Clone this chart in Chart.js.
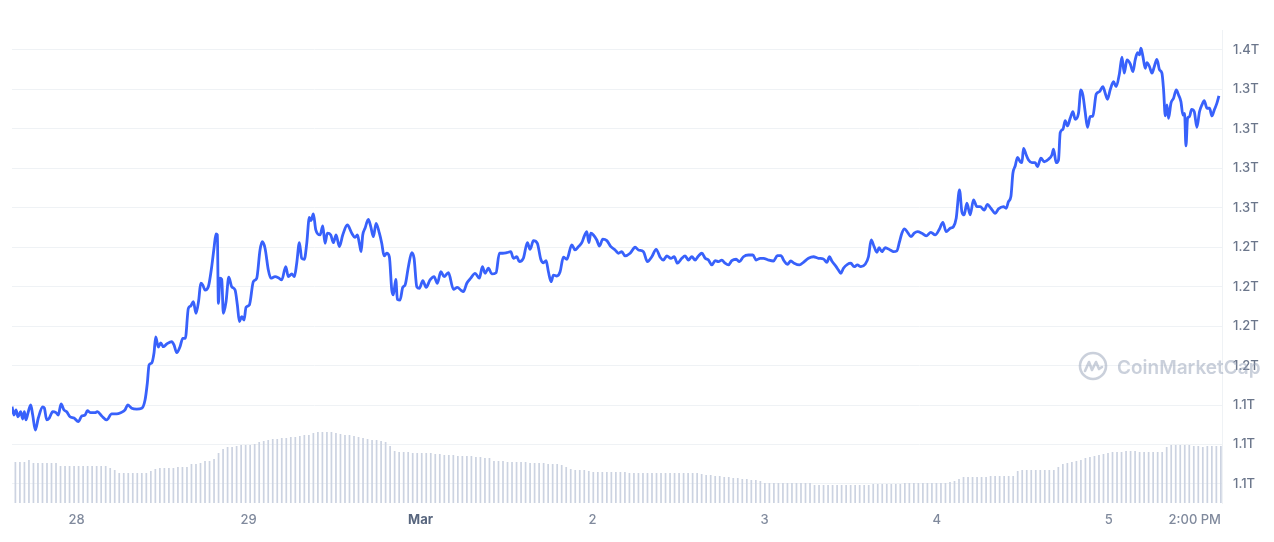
<!DOCTYPE html>
<html>
<head>
<meta charset="utf-8">
<title>Market cap</title>
<script src="https://cdn.jsdelivr.net/npm/chart.js@4.4.1/dist/chart.umd.min.js"></script>
<style>
  html, body { margin: 0; padding: 0; background: #fff; }
  #chart { display: block; }
</style>
</head>
<body>
<canvas id="chart" width="1274" height="542"></canvas>
<script>
// hours since Feb 27 15:00
const hours = [
  0,0.28,0.56,0.84,1.21,1.49,1.72,1.95,2.23,2.61,
  2.89,3.25,3.67,4.28,4.51,4.84,5.20,5.68,6.14,6.46,
  6.84,7.26,7.63,8.09,8.65,9.25,9.73,10.19,10.51,10.98,
  11.58,11.90,12.52,13.21,13.91,14.61,15.17,15.77,16.14,16.70,
  17.40,18.10,18.56,18.88,19.12,19.49,19.81,20.05,20.41,20.75,
  21.11,21.59,22.28,22.60,22.98,23.44,23.82,24.18,24.60,24.93,
  25.30,25.67,26.05,26.33,26.61,26.93,27.39,27.86,28.18,28.46,
  28.65,28.79,29.02,29.26,29.48,29.86,30.24,30.65,31.12,31.44,
  31.72,32.05,32.37,32.65,33.11,
  33.67,34.14,34.60,34.92,35.30,35.76,36.10,36.70,37.16,37.63,
  38.19,38.55,39.03,39.39,39.72,40.09,40.42,40.78,41.12,41.48,
  41.72,42.04,42.38,42.98,43.35,43.67,43.99,44.47,44.83,45.21,
  45.67,46.14,46.78,47.40,47.86,48.18,48.46,48.70,48.93,49.25,
  49.71,50.05,50.41,50.79,51.25,51.58,51.91,52.28,52.64,52.98,
  53.20,53.54,53.76,54.14,54.51,54.84,55.30,55.77,56.09,56.47,
  56.83,57.31,57.77,58.32,58.88,59.34,59.82,60.28,60.88,61.58,
  62.13,62.61,62.97,63.45,64.00,64.60,65.20,65.62,66.00,66.46,
  66.93,67.53,67.99,68.47,69.03,69.58,69.95,70.42,70.78,71.34,
  71.90,72.28,72.74,73.29,73.77,74.13,74.51,74.83,75.21,75.53,
  76.00,76.46,76.92,77.40,78.09,78.55,79.02,79.49,79.85,80.19,
  80.47,80.75,81.11,81.58,81.95,82.42,82.98,83.54,84.14,84.60,
  85.07,85.53,86.23,86.93,87.39,88.09,88.64,89.26,89.86,90.42,
  90.87,91.35,91.91,92.37,92.83,93.44,93.90,94.36,94.84,95.30,
  95.76,96.24,96.70,97.16,97.63,98.09,98.55,99.02,99.48,99.94,
  100.42,101.02,101.48,102.04,102.74,103.35,103.81,
  104.37,104.83,105.53,106.22,106.78,107.26,107.72,108.18,108.65,109.11,
  109.85,110.41,111.11,111.81,112.50,113.20,113.68,114.04,114.37,114.97,
  115.29,115.63,115.99,116.55,117.02,117.48,117.94,118.42,119.02,119.48,
  119.86,120.27,120.65,120.97,121.35,121.81,122.51,122.97,123.44,123.81,
  124.14,124.51,124.93,125.40,125.86,126.32,126.93,127.53,128.19,128.79,
  129.39,129.86,130.32,130.88,131.34,131.72,132.18,132.51,132.83,133.21,
  133.67,134.13,134.61,135.07,135.63,136.08,136.56,137.16,137.62,
  138.32,138.69,139.01,139.35,139.63,139.95,140.27,140.65,140.89,141.11,
  141.49,141.81,142.28,142.74,143.06,143.54,144.00,144.60,145.07,145.30,
  145.67,145.99,146.23,146.61,146.93,147.25,147.62,148.00,148.32,148.78,
  149.11,149.39,149.71,150.03,150.41,150.79,151.25,151.71,152.18,152.51,
  152.83,153.20,153.66,154.04,154.50,154.84,155.16,155.54,156.00,156.37,
  156.69,157.01,157.29,157.49,157.77,158.09,158.33,158.69,159.03,159.35,
  159.72,160.09,160.42,160.65,160.89,161.12,161.34,161.68,162.04,162.42,
  162.74,163.07,163.35,163.58,163.77,164.00,164.27,164.55,164.93,165.30,
  165.66,166.00,166.32,166.70,167.06,167.40,167.72,168.09,168.37
];

// market cap, billions USD
const marketCap = [
  1149.0,1143.7,1146.9,1142.6,1145.8,1141.2,1145.8,1140.6,1145.0,1150.1,
  1143.7,1134.2,1141.8,1148.8,1148.2,1140.6,1141.8,1145.8,1145.2,1143.7,
  1150.7,1146.9,1145.8,1142.6,1141.8,1139.5,1143.1,1143.7,1146.4,1145.2,
  1145.2,1145.8,1143.1,1140.6,1144.4,1144.4,1145.2,1146.9,1150.1,1148.0,
  1147.5,1148.0,1153.2,1164.0,1175.4,1176.7,1183.0,1193.2,1186.8,1189.4,
  1187.0,1188.7,1190.2,1188.1,1183.2,1187.0,1192.3,1192.3,1211.3,1212.8,
  1215.5,1208.2,1216.6,1227.2,1226.1,1222.9,1225.0,1237.7,1249.4,1258.4,
  1257.8,1214.5,1230.4,1229.7,1208.2,1215.5,1231.0,1225.0,1222.9,1213.4,
  1202.9,1206.0,1203.9,1212.0,1213.4,
  1228.2,1230.4,1248.3,1253.5,1249.4,1235.6,1230.4,1231.4,1230.7,1229.3,
  1237.7,1231.4,1233.1,1231.4,1239.9,1252.9,1243.0,1242.4,1252.5,1269.0,
  1266.9,1271.1,1261.0,1257.8,1263.5,1252.5,1258.9,1257.8,1252.9,1257.8,
  1250.4,1257.8,1264.1,1258.9,1256.3,1257.8,1252.5,1247.2,1257.8,1262.0,
  1267.7,1263.1,1256.7,1265.2,1258.9,1252.5,1244.5,1246.2,1244.0,1222.9,
  1219.8,1229.7,1217.0,1216.6,1224.6,1226.1,1237.7,1246.6,1243.0,1225.0,
  1224.0,1228.8,1224.6,1229.3,1231.4,1227.2,1234.5,1231.4,1233.9,1223.4,
  1224.6,1222.9,1221.9,1227.2,1230.4,1233.5,1230.4,1237.7,1233.5,1236.7,
  1233.1,1233.9,1246.2,1246.2,1246.6,1247.2,1243.0,1244.0,1240.9,1243.0,
  1252.9,1248.7,1254.2,1252.5,1242.4,1240.2,1241.5,1234.5,1228.2,1232.4,
  1231.8,1234.5,1243.7,1242.4,1251.5,1248.3,1250.4,1252.9,1257.2,1259.9,
  1252.9,1258.9,1257.8,1254.6,1250.8,1255.1,1254.2,1250.4,1248.3,1246.2,
  1247.2,1244.5,1246.2,1250.0,1248.3,1247.2,1240.9,1244.0,1248.7,1243.7,
  1241.9,1244.5,1243.0,1244.0,1239.9,1243.0,1244.5,1241.9,1244.0,1241.9,
  1244.5,1246.2,1243.0,1241.9,1238.8,1241.5,1240.9,1241.9,1239.9,1238.8,
  1241.5,1242.4,1240.9,1244.0,1245.1,1245.1,1241.9,
  1243.0,1243.0,1241.9,1241.3,1244.7,1244.7,1241.3,1239.2,1241.3,1239.9,
  1238.8,1240.5,1243.0,1244.0,1243.0,1242.6,1240.5,1244.0,1241.3,1237.7,
  1235.6,1233.5,1236.7,1239.2,1239.9,1237.7,1238.8,1237.7,1239.2,1244.0,
  1254.6,1250.4,1246.8,1249.7,1247.2,1249.7,1248.3,1247.2,1247.7,1253.5,
  1258.9,1261.6,1259.5,1256.7,1258.9,1259.9,1258.9,1257.2,1259.5,1257.8,
  1261.6,1265.8,1259.9,1262.0,1263.1,1268.4,1286.3,1272.6,1270.5,1277.9,
  1270.5,1280.0,1275.7,1275.7,1273.6,1277.2,1274.7,1271.5,1274.3,
  1275.7,1274.7,1278.9,1282.1,1296.9,1301.5,1307.0,1304.2,1303.6,1312.7,
  1308.5,1305.3,1303.6,1303.6,1301.1,1306.4,1304.2,1305.8,1308.5,1312.1,
  1303.6,1305.3,1322.6,1324.8,1330.2,1326.9,1331.7,1335.9,1331.1,1334.9,
  1349.7,1346.5,1335.9,1326.0,1332.8,1333.2,1347.1,1348.6,1351.8,1347.6,
  1343.8,1349.7,1354.9,1351.8,1360.3,1370.4,1360.3,1368.7,1366.2,1361.3,
  1368.7,1373.3,1371.9,1376.1,1370.8,1363.4,1367.0,1364.4,1360.3,1364.4,
  1369.1,1362.4,1360.3,1349.7,1333.2,1340.2,1331.7,1341.3,1344.4,1349.7,
  1346.5,1342.3,1333.8,1334.9,1314.2,1331.7,1332.8,1337.4,1335.9,1326.0,
  1335.9,1340.2,1342.9,1338.1,1338.1,1333.2,1337.0,1341.3,1345.9
];

// 24h volume, billions USD (one bar per period)
const volume = [
  41,41,41,43,40,40,40,40,40,40,
  37,37,37,37,37,37,37,37,37,37,37,
  35,33,30,30,30,30,30,30,30,32,34,
  35,35,35,35,36,36,36,39,39,40,42,42,
  44,50,54,56,56,57,58,58,58,59,
  61,62,63,64,64,65,65,66,66,
  67,68,68,70,71,71,71,71,70,69,68,68,67,
  66,65,64,63,63,62,61,57,52,
  51,51,51,50,50,50,50,50,49,49,
  48,48,48,47,47,47,47,46,46,45,45,
  42,42,42,41,41,41,41,41,40,40,40,40,39,39,39,38,
  36,34,33,33,33,32,
  31,31,31,31,31,31,31,31,30,30,30,30,30,30,30,30,
  30,30,30,30,30,30,30,30,29,
  28,28,27,27,26,26,25,25,24,24,23,23,22,
  20,20,20,20,20,20,20,20,20,20,20,
  18,18,18,18,18,18,18,18,18,18,18,18,18,
  19,19,19,19,19,19,19,
  20,20,20,20,20,20,20,20,20,20,
  21,22,24,26,26,26,26,26,26,
  27,27,27,27,27,27,
  32,33,33,33,33,33,33,33,33,
  36,39,40,41,42,43,45,46,47,48,49,50,
  51,51,51,52,52,52,51,51,51,51,51,51,
  56,58,58,58,58,58,57,57,56,
  57,57,57,57
];

const xTickHours = [9, 33, 57, 81, 105, 129, 153, 165];
const xTickLabels = ['28', '29', 'Mar', '2', '3', '4', '5', '2:00 PM'];
const yTickValues = [1100, 1125, 1150, 1175, 1200, 1225, 1250, 1275, 1300, 1325, 1350, 1375];
const yTickLabels = ['1.1T', '1.1T', '1.1T', '1.2T', '1.2T', '1.2T', '1.2T', '1.3T', '1.3T', '1.3T', '1.3T', '1.4T'];

Chart.defaults.font.family = 'Inter, "Noto Sans", sans-serif';

// faint brand mark drawn over the plot
const watermark = {
  id: 'watermark',
  afterDraw(chart) {
    const c = chart.ctx;
    const area = chart.chartArea;
    const cx = area.right - 129;
    const cy = area.bottom - 137;
    c.save();
    c.strokeStyle = 'rgba(150, 162, 184, 0.5)';
    c.fillStyle = 'rgba(150, 162, 184, 0.5)';
    c.lineWidth = 2.6;
    c.lineCap = 'round';
    c.lineJoin = 'round';
    c.beginPath();
    c.arc(cx, cy, 13, 0, Math.PI * 2);
    c.stroke();
    c.beginPath();
    c.moveTo(cx - 8, cy + 5);
    c.lineTo(cx - 4, cy - 4);
    c.lineTo(cx - 1, cy + 4);
    c.lineTo(cx + 3, cy - 4);
    c.lineTo(cx + 6, cy + 3);
    c.lineTo(cx + 9, cy + 1);
    c.stroke();
    c.font = '600 19px Inter, sans-serif';
    c.textBaseline = 'middle';
    c.textAlign = 'left';
    c.fillText('CoinMarketCap', cx + 24, cy + 2);
    c.restore();
  }
};

const ctx = document.getElementById('chart').getContext('2d');
new Chart(ctx, {
  data: {
    datasets: [
      {
        type: 'line',
        label: 'Market Cap',
        data: hours.map((h, i) => ({ x: h, y: marketCap[i] })),
        xAxisID: 'x',
        yAxisID: 'y',
        borderColor: '#3861fb',
        borderWidth: 2.8,
        pointRadius: 0,
        cubicInterpolationMode: 'monotone',
        borderJoinStyle: 'round',
        order: 0
      },
      {
        type: 'bar',
        label: 'Volume',
        data: volume,
        xAxisID: 'xv',
        yAxisID: 'yv',
        backgroundColor: '#ccd3e1',
        barPercentage: 0.76,
        categoryPercentage: 1,
        order: 1
      }
    ]
  },
  options: {
    responsive: false,
    animation: false,
    devicePixelRatio: 1,
    layout: { padding: { left: 12, top: 30, right: 0, bottom: 0 } },
    plugins: {
      legend: { display: false },
      tooltip: { enabled: false }
    },
    scales: {
      x: {
        type: 'linear',
        position: 'bottom',
        min: 0,
        max: 168.8,
        grid: { display: false, drawTicks: false },
        border: { display: false },
        afterBuildTicks: (scale) => { scale.ticks = xTickHours.map(v => ({ value: v })); },
        afterFit: (scale) => { scale.height = 39; },
        ticks: {
          autoSkip: false,
          maxRotation: 0,
          padding: 9,
          callback: (value, index) => xTickLabels[index],
          color: (c) => xTickLabels[c.index] === 'Mar' ? '#58667e' : '#808a9d',
          font: (c) => ({ size: 13, weight: xTickLabels[c.index] === 'Mar' ? 700 : 500 })
        }
      },
      xv: {
        type: 'category',
        labels: volume.map((v, i) => i),
        display: false,
        offset: true
      },
      y: {
        type: 'linear',
        position: 'right',
        min: 1087.96,
        max: 1387.67,
        grid: { color: '#eff2f5', drawTicks: false },
        border: { display: true, color: '#eff2f5' },
        afterBuildTicks: (scale) => { scale.ticks = yTickValues.map(v => ({ value: v })); },
        afterFit: (scale) => { scale.width = 52; },
        ticks: {
          padding: 11,
          color: '#6b768b',
          font: { size: 13, weight: 500 },
          callback: (value, index) => yTickLabels[index]
        }
      },
      yv: {
        type: 'linear',
        display: false,
        min: 0,
        max: 473
      }
    }
  },
  plugins: [watermark]
});
</script>
</body>
</html>
